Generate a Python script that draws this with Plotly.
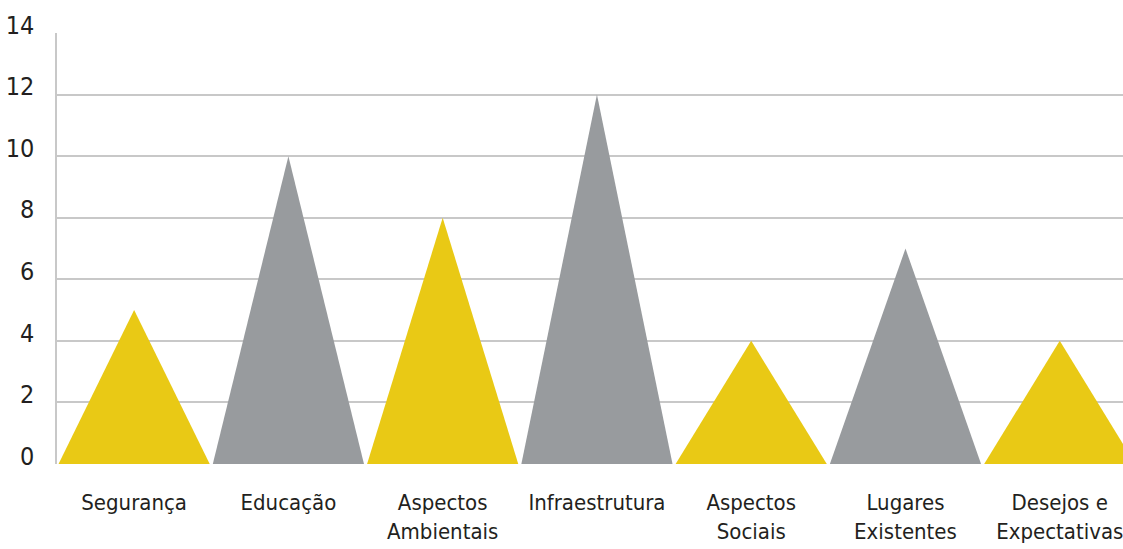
import plotly.graph_objects as go

# Categories (two-line labels) and their counts
categories = [
    "Segurança",
    "Educação",
    "Aspectos<br>Ambientais",
    "Infraestrutura",
    "Aspectos<br>Sociais",
    "Lugares<br>Existentes",
    "Desejos e<br>Expectativas",
]
values = [5, 10, 8, 12, 4, 7, 4]

# Alternating fill colours for the peaks
yellow = "#E9C915"
gray = "#989B9E"
colors = [yellow, gray, yellow, gray, yellow, gray, yellow]

y_ticks = [0, 2, 4, 6, 8, 10, 12, 14]

FONT = "Liberation Sans Narrow, DejaVu Sans Condensed, Open Sans, sans-serif"
half_width = 0.49

fig = go.Figure()
for i, (v, c) in enumerate(zip(values, colors)):
    fig.add_trace(
        go.Scatter(
            x=[i - half_width, i, i + half_width, i - half_width],
            y=[0, v, 0, 0],
            mode="lines",
            fill="toself",
            fillcolor=c,
            line=dict(width=0, color=c),
            hoverinfo="skip",
            showlegend=False,
        )
    )

fig.update_layout(
    width=1123,
    height=549,
    margin=dict(l=57, r=0, t=33, b=85, autoexpand=False),
    paper_bgcolor="white",
    plot_bgcolor="white",
    font=dict(family=FONT, color="#231F20"),
    xaxis=dict(
        range=[-0.5, 6.41],
        tickmode="array",
        tickvals=list(range(len(categories))),
        ticktext=categories,
        showgrid=False,
        zeroline=False,
        showline=False,
        ticks="",
        tickfont=dict(size=22),
        ticklabelstandoff=23,
        ticklabeloverflow="allow",
        automargin=False,
    ),
    yaxis=dict(
        range=[0, 14],
        tickmode="array",
        tickvals=y_ticks,
        showgrid=True,
        gridcolor="#C8C8C8",
        gridwidth=1.5,
        zeroline=False,
        showline=True,
        linecolor="#C8C8C8",
        linewidth=1.5,
        ticks="",
        tickfont=dict(size=25),
        ticklabelstandoff=16,
        ticklabelshift=-8,
        automargin=False,
    ),
)

fig.write_html("out.html")
